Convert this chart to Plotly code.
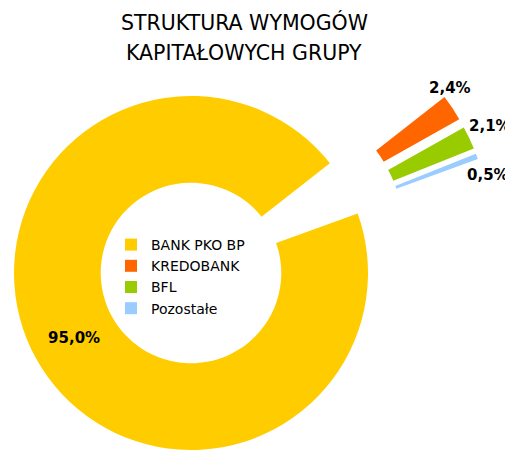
import plotly.graph_objects as go

# ---- data ----
labels = ["BANK PKO BP", "KREDOBANK", "BFL", "Pozostałe"]
values = [95.0, 2.4, 2.1, 0.5]
colors = ["#FFCC00", "#FF6600", "#99CC00", "#99CCFF"]
title_lines = ["STRUKTURA WYMOGÓW", "KAPITAŁOWYCH GRUPY"]

# ---- layout constants (page pixels; the page body adds an 8px margin) ----
PAGE_OFF = 8
W, H = 513 - PAGE_OFF, 450 - PAGE_OFF
CX, CY, R = 191, 273, 177          # donut centre and outer radius (page px)
HOLE = 0.51
ROT = 70                            # first slice starts 70deg clockwise from 12 o'clock
offsets = {1: (114, -67), 2: (118.5, -58.7), 3: (120.5, -53.5)}   # explosion (px)
label_pos = {1: (450, 87.5), 2: (490, 126), 3: (488, 175)}        # label centres
title_pos = [(244, 22.5), (244, 52.8)]
legend_left, legend_top = 111, 229

FONT = "DejaVu Sans, Verdana, sans-serif"
TRANSPARENT = "rgba(0,0,0,0)"


def px_x(x):
    return (x - PAGE_OFF) / W


def px_y(y):
    return 1 - (y - PAGE_OFF) / H


def domain_px(cx, cy, r):
    return dict(x=[max(0.0, px_x(cx - r)), min(1.0, px_x(cx + r))],
                y=[max(0.0, px_y(cy + r)), min(1.0, px_y(cy - r))])


def fmt(v):
    return f"{v:.1f}".replace(".", ",") + "%"


common = dict(labels=labels, values=values, hole=HOLE, sort=False,
              direction="clockwise", rotation=ROT, hoverinfo="skip")

fig = go.Figure()

# main donut (legend source)
fig.add_trace(go.Pie(
    **common,
    domain=domain_px(CX, CY, R),
    marker=dict(colors=colors, line=dict(width=0)),
    texttemplate=["%{value:.1f}%"] + [""] * (len(values) - 1),
    textposition="inside",
    insidetextorientation="horizontal",
    textfont=dict(family=FONT, size=15, color="black", weight="bold"),
    showlegend=True,
))

# white cover where the small slices sat before being exploded
cover_cols = [TRANSPARENT] + ["white"] * (len(values) - 1)
fig.add_trace(go.Pie(
    **common,
    domain=domain_px(CX, CY, R),
    marker=dict(colors=cover_cols,
                line=dict(color=cover_cols, width=[0] + [2] * (len(values) - 1))),
    textinfo="none",
    showlegend=False,
))

# exploded small slices
for i in range(1, len(values)):
    dx, dy = offsets[i]
    cols = [TRANSPARENT] * len(values)
    cols[i] = colors[i]
    fig.add_trace(go.Pie(
        **common,
        domain=domain_px(CX + dx, CY + dy, R),
        marker=dict(colors=cols, line=dict(width=0)),
        textinfo="none",
        showlegend=False,
    ))
    lx, ly = label_pos[i]
    fig.add_annotation(
        x=px_x(lx), y=px_y(ly), xref="paper", yref="paper",
        text=fmt(values[i]), showarrow=False,
        font=dict(family=FONT, size=15, color="black", weight="bold"),
        xanchor="center", yanchor="middle",
    )

# title (two lines, each placed separately for exact spacing)
for line, (tx, ty) in zip(title_lines, title_pos):
    fig.add_annotation(
        x=px_x(tx), y=px_y(ty), xref="paper", yref="paper",
        text=line, showarrow=False,
        font=dict(family=FONT, size=20.5, color="black"),
        xanchor="center", yanchor="middle",
    )

fig.update_layout(
    width=W, height=H,
    margin=dict(l=0, r=0, t=0, b=0),
    paper_bgcolor="white", plot_bgcolor="white",
    separators=", ",
    legend=dict(x=px_x(legend_left), y=px_y(legend_top),
                xanchor="left", yanchor="top",
                bgcolor=TRANSPARENT, borderwidth=0,
                font=dict(family=FONT, size=14, color="black"),
                traceorder="normal"),
)

fig.write_html("out.html")
